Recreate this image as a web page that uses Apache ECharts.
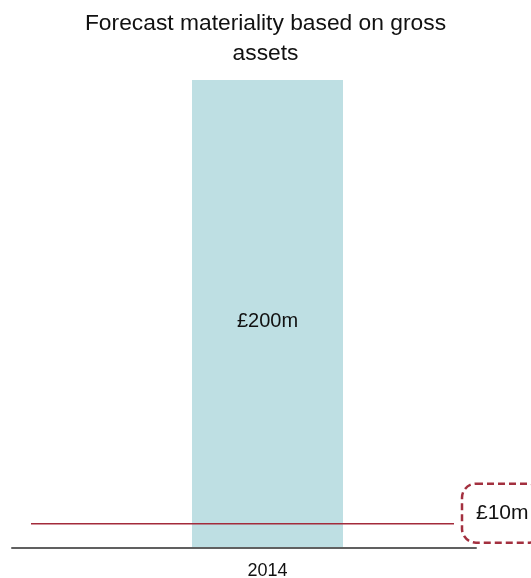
<!DOCTYPE html>
<html><head><meta charset="utf-8">
<script src="https://cdn.jsdelivr.net/npm/echarts@6/dist/echarts.min.js"></script>
<style>html,body{margin:0;padding:0;background:#fff}#c{width:531px;height:578px}</style>
</head><body><div id="c"></div>
<script>
const categories = ['2014'];
const grossAssets = [200];           // £m
const materialityValue = 10;         // £m
const materialityLabel = '£10m';
const barLabels = ['£200m'];
const titleText = 'Forecast materiality based on gross\nassets';

const chart = echarts.init(document.getElementById('c'));
const font = 'Liberation Sans, Arial, sans-serif';
chart.setOption({
  animation: false,
  title: {
    text: titleText, left: 'center', top: 4,
    textStyle: { fontFamily: font, fontSize: 22.8, fontWeight: 'normal', color: '#111', lineHeight: 30 }
  },
  grid: [
    { left: 12, right: 55, top: 80, bottom: 30, outerBoundsMode: 'none', containLabel: false },
    { left: 192, right: 188, top: 80, bottom: 31, outerBoundsMode: 'none', containLabel: false },
    { left: 31, right: 77, top: 80, bottom: 31, outerBoundsMode: 'none', containLabel: false }
  ],
  xAxis: [
    { gridIndex: 0, type: 'category', data: [''], axisLine: { lineStyle: { color: '#606060', width: 2 } }, axisTick: { show: false }, axisLabel: { show: false } },
    { gridIndex: 1, type: 'category', data: categories, axisLine: { show: false }, axisTick: { show: false },
      axisLabel: { fontFamily: font, fontSize: 18, color: '#111', margin: 15 } },
    { gridIndex: 2, type: 'value', min: 0, max: 1, show: false }
  ],
  yAxis: [
    { gridIndex: 0, type: 'value', min: 0, max: 200, show: false },
    { gridIndex: 1, type: 'value', min: 0, max: 200, show: false },
    { gridIndex: 2, type: 'value', min: 0, max: 200, show: false }
  ],
  series: [
    {
      type: 'bar', xAxisIndex: 1, yAxisIndex: 1, data: grossAssets, barWidth: '100%',
      itemStyle: { color: '#bedfe3' },
      label: { show: true, position: 'inside', offset: [0, 8], formatter: p => barLabels[p.dataIndex],
        fontFamily: font, fontSize: 20, color: '#111' }
    },
    {
      type: 'line', xAxisIndex: 2, yAxisIndex: 2, data: [[0, materialityValue], [1, materialityValue]],
      showSymbol: false, symbol: 'none', lineStyle: { color: '#a32b3b', width: 1.5 },
      endLabel: { show: true, formatter: materialityLabel, fontFamily: font, fontSize: 21, color: '#111',
        padding: [19, 14, 19, 14], borderColor: '#a3303f', borderWidth: 2.5, borderType: [7, 4],
        borderRadius: 14, distance: 8, offset: [0, -10.5] }
    }
  ]
});
</script></body></html>
